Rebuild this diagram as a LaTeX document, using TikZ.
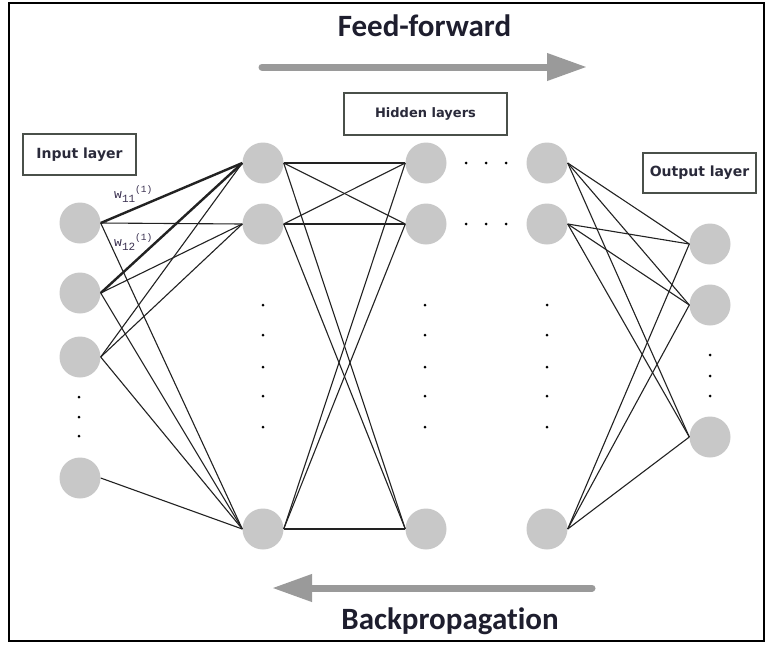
\documentclass[tikz,border=0pt]{standalone}
\usepackage{fontspec}
\setmainfont{DejaVu Sans}
\newfontfamily\titlefont[Ligatures=NoCommon]{Carlito}
\newfontfamily\wfont{Liberation Mono}
\usetikzlibrary{arrows.meta}
\definecolor{nodegray}{HTML}{C8C8C8}
\definecolor{edgecol}{HTML}{222222}
\definecolor{boxcol}{HTML}{4A504A}
\definecolor{labcol}{HTML}{2A2A3A}
\definecolor{arrowgray}{HTML}{9A9A9A}
\definecolor{titlecol}{HTML}{1E1E2E}
\definecolor{wcol}{HTML}{3A3050}
\newcommand{\wsub}[1]{\raisebox{-3.5pt}{\fontsize{11}{12}\selectfont #1}}
\newcommand{\wsup}[1]{\raisebox{6pt}{\fontsize{9.5}{10}\selectfont #1}}
\begin{document}
\begin{tikzpicture}[x=1pt,y=-1pt,
  neuron/.style={circle,fill=nodegray,minimum size=41pt,inner sep=0pt},
  edge/.style={draw=edgecol,line width=1.1pt},
  thickedge/.style={draw=edgecol,line width=2.4pt},
  labelbox/.style={draw=boxcol,line width=1.4pt,text=labcol,inner sep=0pt,
    font=\bfseries\fontsize{14}{16}\selectfont},
  vdot/.style={circle,fill=black,minimum size=3pt,inner sep=0pt},
  bigarrow/.style={draw=arrowgray,line width=7pt,line cap=round,
    -{Triangle[length=40pt,width=26pt,fill=arrowgray]}},
  title/.style={font=\titlefont\bfseries\fontsize{31}{36}\selectfont,text=titlecol,anchor=base},
  wlab/.style={font=\wfont\fontsize{13}{14}\selectfont,text=wcol,inner sep=0pt}]
\useasboundingbox (0,0) rectangle (768,646);
\fill[white] (0,0) rectangle (768,646);
\draw[line width=2pt,black] (9,3) rectangle (764,641);

% titles and arrows
\node[title] (ff) at (424.5,36) {Feed-forward};
\coordinate (ffs) at (262,67);
\coordinate (ffe) at (587,67);
\draw[bigarrow] (ffs) -- (ffe);
\node[title] (bp) at (450,629) {Backpropagation};
\coordinate (bps) at (592,588);
\coordinate (bpe) at (272,588);
\draw[bigarrow] (bps) -- (bpe);

% label boxes
\node[labelbox,minimum width=113pt,minimum height=41pt] (inbox) at (79.5,154.5) {Input layer};
\node[labelbox,minimum width=163pt,minimum height=42pt,font=\bfseries\fontsize{13}{15}\selectfont] (hidbox) at (425.5,114) {Hidden layers};
\node[labelbox,minimum width=113pt,minimum height=40pt] (outbox) at (699.5,173) {Output layer};

% neurons
\node[neuron] (i1) at (80,223) {};
\node[neuron] (i2) at (80,293) {};
\node[neuron] (i3) at (80,357) {};
\node[neuron] (i4) at (80,478) {};
\foreach \n/\x in {h1/263,h2/426,h3/547}{
  \node[neuron] (\n a) at (\x,163) {};
  \node[neuron] (\n b) at (\x,224) {};
  \node[neuron] (\n c) at (\x,529) {};
}
\node[neuron] (o1) at (710,244) {};
\node[neuron] (o2) at (710,305) {};
\node[neuron] (o3) at (710,437) {};

% dots
\foreach \y [count=\k] in {397,417,436}{\node[vdot] (di\k) at (79,\y) {};}
\foreach \y [count=\k] in {355,376,396}{\node[vdot] (do\k) at (710,\y) {};}
\foreach \x/\n in {263/a,425/b,547/c}{
  \foreach \y [count=\k] in {305,335,367,396,427}{\node[vdot] (dh\n\k) at (\x,\y) {};}
}
\foreach \x [count=\k] in {466,486,506}{
  \node[vdot] (dt\k) at (\x,163) {};
  \node[vdot] (db\k) at (\x,224) {};
}

% input -> hidden 1
\draw[thickedge] (i1.east) -- (h1a.west);
\draw[thickedge] (i2.east) -- (h1a.west);
\draw[edge] (i1.east) -- (h1b.west);
\draw[edge] (i1.east) -- (h1c.west);
\draw[edge] (i2.east) -- (h1b.west);
\draw[edge] (i2.east) -- (h1c.west);
\draw[edge] (i3.east) -- (h1a.west);
\draw[edge] (i3.east) -- (h1b.west);
\draw[edge] (i3.east) -- (h1c.west);
\draw[edge] (i4.east) -- (h1c.west);

% hidden 1 -> hidden 2
\foreach \s in {a,b,c}{
  \foreach \t in {a,b,c}{
    \draw[edge] (h1\s.east) -- (h2\t.west);
  }
}
% hidden 3 -> output
\foreach \s in {a,b,c}{
  \foreach \t in {1,2,3}{
    \draw[edge] (h3\s.east) -- (o\t.west);
  }
}

% weight labels
\node[wlab,anchor=west] (w11) at (114,194) {w\wsub{11}\wsup{(1)}};
\node[wlab,anchor=west] (w12) at (114,242) {w\wsub{12}\wsup{(1)}};
\end{tikzpicture}
\end{document}
